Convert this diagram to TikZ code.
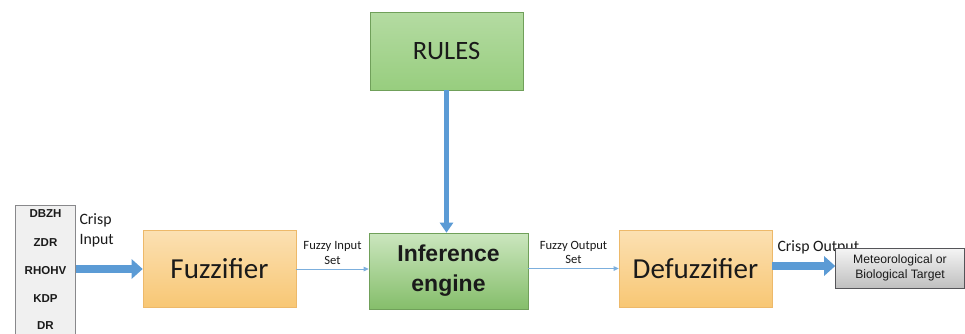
\documentclass[tikz,border=0pt]{standalone}
\usepackage{fontspec}
\setmainfont{Carlito}
\newfontfamily\arialfont{Liberation Sans}
\usetikzlibrary{arrows.meta, positioning}
\definecolor{fisblue}{HTML}{5B9BD5}
\definecolor{fisorange}{HTML}{F8C774}
\definecolor{fisgreen}{HTML}{8CC870}
\definecolor{fisgray}{HTML}{555559}
\definecolor{fistext}{HTML}{1A1A1A}

\begin{document}
\begin{tikzpicture}[
        x=1pt, y=-1pt,
        every node/.style={align=center, anchor=center, text=fistext},
        orangebox/.style={rectangle, draw=fisorange!80!brown, line width=0.6pt,
                          top color=fisorange!55, bottom color=fisorange,
                          minimum width=153pt, minimum height=77pt, inner sep=2pt,
                          font=\fontsize{29}{32}\selectfont},
        greenbox/.style={rectangle, draw=fisgreen!80!black, line width=0.6pt,
                         top color=fisgreen!65, bottom color=fisgreen!90,
                         minimum width=153pt, minimum height=78pt, inner sep=2pt},
        listbox/.style={rectangle, draw=fisgray!70, line width=0.6pt, fill=gray!12,
                        minimum width=60pt, minimum height=140pt, inner sep=0pt},
        listlbl/.style={font=\arialfont\bfseries\fontsize{11.5}{13}\selectfont},
        targetbox/.style={rectangle, draw=fisgray, line width=0.6pt,
                          top color=gray!8, bottom color=gray!50,
                          minimum width=129pt, minimum height=40pt, inner sep=2pt,
                          font=\arialfont\fontsize{12.2}{14.5}\selectfont},
        flowlbl/.style={font=\fontsize{12.6}{14.5}\selectfont},
        crisplbl/.style={font=\fontsize{15.8}{20}\selectfont},
        bigarrow/.style={draw=fisblue, line width=8pt,
                         -{Triangle[length=11pt, width=19pt]}},
        rulearrow/.style={draw=fisblue, line width=4.5pt,
                          -{Triangle[length=10pt, width=13pt]}},
        thinarrow/.style={draw=fisblue!80, line width=0.9pt,
                          -{Triangle[length=5pt, width=4.5pt]}}
    ]
        \useasboundingbox (0,0) rectangle (965,333);
        \fill[white] (0,0) rectangle (965,333);

        % radar inputs
        \node[listbox] (list) at (45.5,275) {};
        \node[listlbl] (dbzh)  at (45.5,214) {DBZH};
        \node[listlbl] (zdr)   at (45.5,243) {ZDR};
        \node[listlbl] (rhohv) at (45.5,271) {RHOHV};
        \node[listlbl] (kdp)   at (45.5,299) {KDP};
        \node[listlbl] (dr)    at (45.5,326) {DR};
        \node[crisplbl, anchor=west, align=left] (crispin) at (76,230) {Crisp\\Input};

        % main blocks
        \node[orangebox] (fuzz) at (219.5,269) {Fuzzifier};
        \node[greenbox, minimum width=159pt, minimum height=76pt,
              top color=fisgreen!45, bottom color=fisgreen!95!black,
              font=\arialfont\bfseries\fontsize{23}{30}\selectfont]
              (infer) at (448.5,271) {Inference\\engine};
        \node[greenbox, font=\fontsize{26.5}{30}\selectfont] (rules) at (446.5,51) {RULES};
        \node[orangebox] (defuzz) at (695.5,268.5) {Defuzzifier};

        % output side
        \node[crisplbl, anchor=west] (crispout) at (774,247) {Crisp Output};
        \node[targetbox] (target) at (900,268) {Meteorological or\\Biological Target};

        % connectors
        \draw[bigarrow] (list.east |- fuzz.west) -- (fuzz.west);
        \draw[rulearrow] (rules.south) -- (rules.south |- infer.north);
        \draw[thinarrow] (fuzz.east) -- (fuzz.east -| infer.west)
            node[flowlbl, midway, above=1pt] (fisin) {Fuzzy Input\\Set};
        \draw[thinarrow] (infer.east |- defuzz.west) -- (defuzz.west)
            node[flowlbl, midway, above=1pt] (fisout) {Fuzzy Output\\Set};
        \draw[bigarrow] (defuzz.east |- 0,266) -- (target.west |- 0,266);
    \end{tikzpicture}
\end{document}
